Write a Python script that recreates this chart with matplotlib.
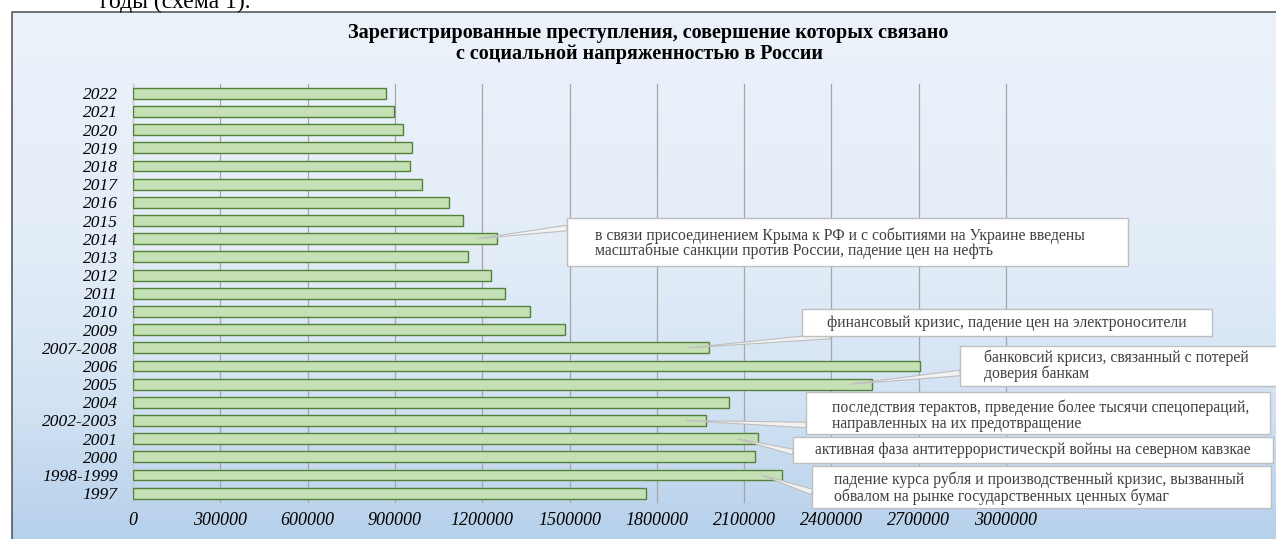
import numpy as np
import matplotlib
matplotlib.use('Agg')
import matplotlib.pyplot as plt
from matplotlib.patches import Rectangle
from matplotlib.colors import to_rgb

# --- datos del gráfico ---
categorias = ['2022', '2021', '2020', '2019', '2018', '2017', '2016', '2015',
              '2014', '2013', '2012', '2011', '2010', '2009', '2007-2008',
              '2006', '2005', '2004', '2002-2003', '2001', '2000',
              '1998-1999', '1997']
valores = [870000, 898000, 929000, 959000, 951000, 992000, 1085000, 1134000,
           1252000, 1152000, 1230000, 1278000, 1364000, 1486000, 1981000,
           2704000, 2538000, 2047000, 1970000, 2147000, 2136000,
           2230000, 1762000]
ticks_x = [0, 300000, 600000, 900000, 1200000, 1500000, 1800000,
           2100000, 2400000, 2700000, 3000000]

titulo = ("Зарегистрированные преступления, совершение которых связано\n"
          "с социальной напряженностью в России")
texto_superior = "годы (схема 1)."

eventos_cat = ['2014', '2007-2008', '2005', '2002-2003', '2001', '1998-1999']
eventos_txt = [
    ["в связи присоединением Крыма к РФ и с событиями на Украине введены",
     "масштабные санкции против России, падение цен на нефть"],
    ["финансовый кризис, падение цен на электроносители"],
    ["банковсий крисиз, связанный с потерей", "доверия банкам"],
    ["последствия терактов, прведение более тысячи спецопераций,",
     "направленных на их предотвращение"],
    ["активная фаза антитеррористическрй войны на северном кавзкае"],
    ["падение курса рубля и производственный кризис, вызванный",
     "обвалом на рынке государственных ценных бумаг"],
]

# --- posiciones de los cuadros (pixeles, origen arriba a la izquierda) ---
# (x0, y0, x1, y1), x del texto (None = centrado), y de cada linea, base de la flecha
cuadros = [
    ((567, 218, 1128, 266), 595, [236, 251], (567, 228)),
    ((802, 309, 1212, 336), None, [323], (830, 336)),
    ((960, 346, 1290, 386), 984, [358, 374], (960, 373)),
    ((806, 392, 1270, 434), 832, [408, 424], (806, 425)),
    ((793, 437, 1273, 463), None, [450], (793, 452)),
    ((812, 466, 1271, 508), 834, [480, 497], (812, 492)),
]

W, H = 1276, 539
SERIF = ['Liberation Serif', 'DejaVu Serif']


def fondo(fig):
    """Fondo degradado del área del gráfico con su borde"""
    ax_bg = fig.add_axes([0, 0, 1, 1], zorder=0)
    ax_bg.set_xlim(0, W)
    ax_bg.set_ylim(H, 0)
    ax_bg.axis('off')

    paradas = [0.0, 0.45, 0.75, 1.0]
    colores = [to_rgb('#ECF2FA'), to_rgb('#E3EDF8'), to_rgb('#D2E2F3'), to_rgb('#B6D0EB')]
    t = np.linspace(0, 1, 300)
    grad = np.zeros((300, 1, 3))
    for c in range(3):
        grad[:, 0, c] = np.interp(t, paradas, [col[c] for col in colores])
    ax_bg.imshow(grad, extent=(12, W, H, 12), aspect='auto', interpolation='bilinear')
    ax_bg.plot([12, 12, W], [H, 12, 12], color='#5A5A5A', lw=1.2)

    # texto del documento, cortado por el borde superior (como en el original)
    ax_bg.text(100, 8, texto_superior, family=SERIF, fontsize=17,
               color='black', va='baseline', ha='left')
    return ax_bg


def barras(fig):
    """Barras horizontales principales"""
    ax = fig.add_axes([133 / W, (H - 502.3) / H, 873 / W, 418.1 / H], zorder=1)
    ax.patch.set_alpha(0)
    y = np.arange(len(categorias))
    ax.barh(y, valores, height=0.6, color='#C5E0B4', edgecolor='#54823A',
            linewidth=1.0, zorder=3)
    ax.set_xlim(0, 3000000)
    ax.set_ylim(len(categorias) - 0.5, -0.5)
    ax.set_yticks(y)
    ax.set_yticklabels(categorias, family=SERIF, style='italic', fontsize=12.5)
    ax.set_xticks(ticks_x)
    ax.set_xticklabels([str(v) for v in ticks_x], family=SERIF, style='italic', fontsize=13)
    ax.tick_params(axis='y', length=0, pad=11)
    ax.tick_params(axis='x', length=0, pad=7)
    ax.xaxis.grid(True, color='#A6A6A6', lw=0.9, zorder=0)
    for linea in ax.get_xgridlines():
        linea.set_clip_on(False)
    ax.set_axisbelow(True)
    for lado in ['top', 'right', 'bottom']:
        ax.spines[lado].set_visible(False)
    ax.spines['left'].set_color('#C8C8C8')
    return ax


def anotaciones(fig, ax):
    """Cuadros de texto con flechas hacia las barras"""
    ax_top = fig.add_axes([0, 0, 1, 1], zorder=2)
    ax_top.set_xlim(0, W)
    ax_top.set_ylim(H, 0)
    ax_top.axis('off')

    for cat, lineas, (caja, tx, ys, base) in zip(eventos_cat, eventos_txt, cuadros):
        i = categorias.index(cat)
        punta = (valores[i] - 70000, i)
        ax_top.annotate('', xy=punta, xycoords=ax.transData,
                        xytext=base, textcoords='data',
                        arrowprops=dict(arrowstyle='wedge,tail_width=0.4',
                                        fc='#F2F2F2', ec='#BDBDBD', lw=0.8,
                                        shrinkA=0, shrinkB=0, mutation_scale=10),
                        zorder=2)
        x0, y0, x1, y1 = caja
        ax_top.add_patch(Rectangle((x0, y0), x1 - x0, y1 - y0, facecolor='white',
                                   edgecolor='#BFBFBF', lw=1.0, zorder=3))
        for linea, yl in zip(lineas, ys):
            if tx is None:
                ax_top.text((x0 + x1) / 2, yl, linea, family=SERIF, fontsize=11.3,
                            color='#404040', ha='center', va='center', zorder=4)
            else:
                ax_top.text(tx, yl, linea, family=SERIF, fontsize=11.3,
                            color='#404040', ha='left', va='center', zorder=4)
    return ax_top


def main():
    fig = plt.figure(figsize=(W / 100, H / 100), dpi=100)
    fig.patch.set_facecolor('white')
    ax_bg = fondo(fig)
    ax = barras(fig)
    anotaciones(fig, ax)

    # Título en dos líneas
    ax_bg.text(648, 33, titulo.split('\n')[0], family=SERIF, fontsize=14.5,
               weight='bold', ha='center', va='center', color='black')
    ax_bg.text(640, 54, titulo.split('\n')[1], family=SERIF, fontsize=14.5,
               weight='bold', ha='center', va='center', color='black')

    fig.savefig('out.png', dpi=100)


if __name__ == "__main__":
    main()
